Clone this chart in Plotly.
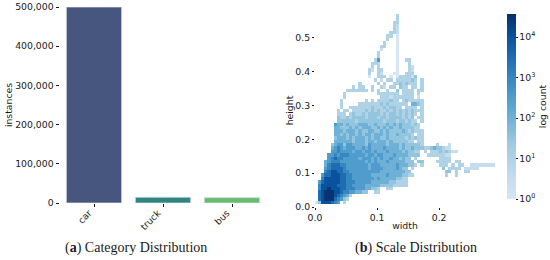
import plotly.graph_objects as go

W, H = 550, 260

categories = ["car", "truck", "bus"]
instances = [500000, 14500, 13500]
bar_colors = ["#47567f", "#2f8580", "#67bd6e"]

bin_width = 0.005
bin_height = 0.01
# one string per height bin, top bin first; one char per width bin:
# '.' = no boxes, digit d = count of 10^(d/2)
density_rows = [
    "..........................2",
    "..........................2",
    ".........................22",
    ".........................21",
    ".........................21",
    "........................221",
    ".......................22.0",
    ".......................2..0",
    "......................2...0",
    ".....................22...0",
    ".....................1....0",
    "....................2.....0",
    "....................2.....0",
    "...................25.....0..22",
    "..................222.....0...2",
    "..................2.2.....0...21",
    ".................21.22....0...21",
    ".................2..21...00..222",
    ".................0..222.0.0222213",
    "...................2.1.22.2222232.2",
    "..............2.....2.2..22323222.2",
    "............2.22..2..21.22.322.22.2",
    "..........2222222.2.2..2..3.2222.22",
    ".........2..........2222222.2222.2.",
    ".........2...........22212222222.1.",
    "........2.......2.2.2222322.2322222",
    "........2.....2222222323222222.4432",
    "........2..22222223222323322.2222.2",
    ".......2.22.22223232322323232323222",
    ".......222.2322323333232332323232.2",
    ".......3223233332333233233332323.22",
    ".......33333323333333323332332322.2",
    "......5443433344433433343434333232.",
    "......4433343434443343434334333322.",
    "......44434443433443343433334323222",
    "......44343443434434443433433332.22",
    "......34443434443434433433333232322",
    "......44444434443443444343333322.22",
    ".....345535544443544444344434333332....2...1",
    ".....456545554454544445444434334333223433211",
    ".....55655554554554544454444343322.2.222323211",
    "....556566655555455455444544443333..22222211",
    "....567665555545554545445443433.2.......2222",
    "...45666555555554545444544444333.33....22222.22",
    "...467776655555554555444445444332.2.....222.2.22..111111111",
    "...567777655555554555544445433.2.........3.2222.11111",
    "...6788776655555555554444444433...........33.2..22",
    "..577888776655555544444544443322..........2..2",
    "..6888887766555555545444443322",
    ".57888887766655555444444332222",
    ".68888877766555544444333322222",
    ".68898887766655544332..22",
    ".7899988766554433..22",
    ".78999876542",
    ".7899976532",
    "03888765.2",
]

height_ticks = [0.0, 0.1, 0.2, 0.3, 0.4, 0.5]
width_ticks = [0.0, 0.1, 0.2]
cbar_exponents = [0, 1, 2, 3, 4]
log_max = 4.57

n_cols = max(len(r) for r in density_rows)
rows_bottom_up = density_rows[::-1]
first_row = 1
z = []
for row in rows_bottom_up:
    z.append([None if ch == "." else int(ch) / 2 for ch in row.ljust(n_cols, ".")])
xc = [(i + 0.5) * bin_width for i in range(n_cols)]
yc = [(first_row + i + 0.5) * bin_height for i in range(len(z))]

blues = [
    [0.0, "#d6e6f4"], [0.15, "#c0d8ed"], [0.3, "#9ecae1"], [0.45, "#6baed6"],
    [0.6, "#4292c6"], [0.75, "#2171b5"], [0.88, "#08519c"], [1.0, "#08306b"],
]

TXT = "#1a1a1a"
FONT = dict(family="DejaVu Sans", size=9.3, color=TXT)
CAPTION = dict(family="Liberation Serif", size=14, color=TXT)

fig = go.Figure()
fig.add_trace(go.Bar(
    x=categories, y=instances, width=0.8,
    marker=dict(color=bar_colors, line=dict(color="#c9d3e2", width=0.8)),
    xaxis="x", yaxis="y", showlegend=False,
))
fig.add_trace(go.Heatmap(
    x=xc, y=yc, z=z, zmin=0, zmax=log_max, colorscale=blues, hoverongaps=False,
    xaxis="x2", yaxis="y2",
    colorbar=dict(
        x=507 / W, xanchor="left", xpad=0, ypad=0, thickness=9, thicknessmode="pixels",
        y=(H - 199) / H, yanchor="bottom", len=185, lenmode="pixels", outlinewidth=0,
        tickvals=cbar_exponents, ticktext=[f"10<sup>{e}</sup>" for e in cbar_exponents],
        ticks="outside", ticklen=2, tickcolor=TXT, tickfont=FONT,
        title=dict(text="log count", side="right", font=FONT),
    ),
))

fig.update_layout(
    width=W, height=H, margin=dict(l=0, r=0, t=0, b=0, autoexpand=False), autosize=False,
    paper_bgcolor="white", plot_bgcolor="white", font=FONT, bargap=0.2,
    xaxis=dict(
        domain=[59.5 / W, 266.5 / W], range=[-0.5, 2.5], type="category",
        showgrid=False, zeroline=False, showline=False, ticks="outside", ticklen=3,
        tickcolor=TXT, tickangle=-45, tickfont=FONT, ticklabelshift=-5, ticklabelstandoff=-3,
    ),
    yaxis=dict(
        domain=[(H - 203) / H, (H - 7) / H], range=[0, 500000], tickvals=[0, 100000, 200000, 300000, 400000, 500000],
        tickformat=",d", showgrid=False, zeroline=False, showline=False, ticks="outside",
        ticklen=3, tickcolor=TXT, tickfont=FONT,
        title=dict(text="instances", font=FONT, standoff=0),
    ),
    xaxis2=dict(
        domain=[315 / W, 495 / W], range=[0, 0.29], anchor="y2", tickvals=width_ticks,
        tickformat=".1f", showgrid=False, zeroline=False, showline=False, ticks="outside",
        ticklen=2, tickcolor=TXT, tickfont=FONT,
        title=dict(text="width", font=FONT, standoff=0),
    ),
    yaxis2=dict(
        domain=[(H - 207) / H, (H - 14) / H], range=[0, 0.57], anchor="x2", tickvals=height_ticks,
        tickformat=".1f", showgrid=False, zeroline=False, showline=False, ticks="outside",
        ticklen=2, tickcolor=TXT, tickfont=FONT,
        title=dict(text="height", font=FONT, standoff=0),
    ),
    annotations=[
        dict(text="(<b>a</b>) Category Distribution", x=136 / W, y=(H - 248) / H, xref="paper", yref="paper",
             xanchor="center", yanchor="middle", showarrow=False, font=CAPTION),
        dict(text="(<b>b</b>) Scale Distribution", x=416 / W, y=(H - 248) / H, xref="paper", yref="paper",
             xanchor="center", yanchor="middle", showarrow=False, font=CAPTION),
    ],
)

fig.write_html("out.html", config={"displayModeBar": False},
               post_script="document.body.style.margin='0';document.documentElement.style.overflow='hidden';")
